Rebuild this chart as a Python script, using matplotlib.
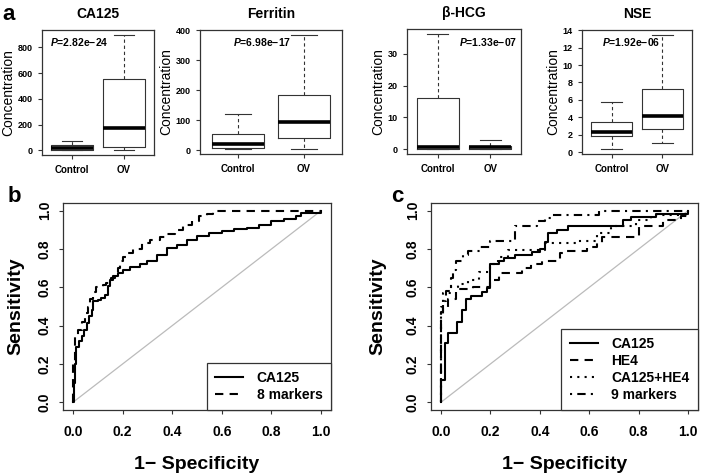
import numpy as np
import matplotlib
matplotlib.use('Agg')
from matplotlib import pyplot as plt

plt.rcParams['font.family'] = ['Liberation Sans', 'DejaVu Sans']
plt.rcParams['mathtext.fontset'] = 'custom'
plt.rcParams['mathtext.it'] = 'Liberation Sans:italic:bold'
plt.rcParams['mathtext.rm'] = 'Liberation Sans:bold'

# ---- panel a: box plot summaries (whislo, q1, med, q3, whishi) ----
markers = ['CA125', 'Ferritin', 'β-HCG', 'NSE']
groups = ['Control', 'OV']
p_values = ['2.82e−24', '6.98e−17', '1.33e−07', '1.92e−06']
control_stats = [[0, 5, 15, 40, 75],
                 [2, 8, 20, 53, 120],
                 [0, 0.2, 0.6, 16, 36.3],
                 [0.3, 1.8, 2.35, 3.5, 5.7]]
ov_stats = [[0, 30, 175, 555, 900],
            [3, 40, 92, 182, 385],
            [0, 0.2, 0.7, 1.2, 2.9],
            [1.0, 2.6, 4.15, 7.3, 13.5]]
y_ticks = [np.arange(0, 801, 200), np.arange(0, 401, 100),
           np.arange(0, 31, 10), np.arange(0, 15, 2)]

# ---- panel b: ROC curves ----
b_ca125_fpr = [0, 0.003, 0.008, 0.012, 0.025, 0.035, 0.045, 0.055, 0.065, 0.075, 0.082, 0.1,
               0.115, 0.13, 0.142, 0.15, 0.16, 0.18, 0.2, 0.23, 0.27, 0.3, 0.34, 0.38, 0.42,
               0.46, 0.5, 0.55, 0.6, 0.65, 0.7, 0.75, 0.8, 0.85, 0.9, 0.92, 0.98, 1.0]
b_ca125_tpr = [0, 0.1, 0.2, 0.29, 0.32, 0.345, 0.38, 0.415, 0.45, 0.48, 0.53, 0.535,
               0.545, 0.56, 0.605, 0.64, 0.66, 0.675, 0.69, 0.705, 0.72, 0.74, 0.77, 0.805, 0.82,
               0.845, 0.87, 0.885, 0.895, 0.905, 0.91, 0.925, 0.945, 0.955, 0.97, 0.99, 0.99, 1.0]
b_8m_fpr = [0, 0.002, 0.007, 0.02, 0.035, 0.047, 0.06, 0.07, 0.08, 0.094, 0.12, 0.135,
            0.155, 0.168, 0.18, 0.19, 0.2, 0.22, 0.243, 0.28, 0.31, 0.35, 0.377, 0.41, 0.445,
            0.48, 0.51, 0.54, 0.566, 1.0]
b_8m_tpr = [0, 0.2, 0.35, 0.38, 0.42, 0.465, 0.5, 0.54, 0.575, 0.6, 0.61, 0.625,
            0.65, 0.665, 0.7, 0.735, 0.76, 0.78, 0.80, 0.83, 0.847, 0.865, 0.88, 0.9, 0.925,
            0.945, 0.97, 0.985, 1.0, 1.0]

# ---- panel c: ROC curves ----
c_ca125_fpr = [0, 0, 0.017, 0.03, 0.065, 0.085, 0.1, 0.12, 0.165, 0.185, 0.2, 0.235, 0.255,
               0.3, 0.37, 0.4, 0.42, 0.435, 0.47, 0.515, 0.735, 0.77, 0.87, 1.0]
c_ca125_tpr = [0, 0.118, 0.31, 0.36, 0.42, 0.48, 0.54, 0.555, 0.575, 0.595, 0.72, 0.74, 0.755,
               0.77, 0.785, 0.8, 0.835, 0.885, 0.9, 0.918, 0.95, 0.967, 0.985, 1.0]
c_he4_fpr = [0, 0, 0.01, 0.03, 0.06, 0.13, 0.2, 0.235, 0.33, 0.365, 0.41, 0.48, 0.5, 0.59,
             0.63, 0.65, 0.8, 0.9, 0.97, 1.0]
c_he4_tpr = [0, 0.47, 0.5, 0.54, 0.59, 0.6, 0.64, 0.675, 0.70, 0.72, 0.735, 0.78, 0.79, 0.81,
             0.83, 0.865, 0.92, 0.95, 0.97, 1.0]
c_combo_fpr = [0, 0, 0.01, 0.04, 0.07, 0.11, 0.155, 0.2, 0.23, 0.27, 0.42, 0.55, 0.63, 0.69,
               0.79, 0.85, 1.0]
c_combo_tpr = [0, 0.5, 0.57, 0.60, 0.62, 0.64, 0.68, 0.72, 0.76, 0.797, 0.83, 0.84, 0.885,
               0.918, 0.95, 0.98, 1.0]
c_9m_fpr = [0, 0, 0.01, 0.02, 0.04, 0.05, 0.06, 0.09, 0.11, 0.16, 0.2, 0.3, 0.39, 0.42, 0.45,
            0.64, 1.0]
c_9m_tpr = [0, 0.45, 0.53, 0.58, 0.65, 0.69, 0.74, 0.77, 0.79, 0.81, 0.84, 0.918, 0.944, 0.96,
            0.98, 1.0, 1.0]

W, H = 709, 476
fig = plt.figure(figsize=(W / 100, H / 100), dpi=100)


def px_axes(l, t, r, b):
    return fig.add_axes([l / W, 1 - b / H, (r - l) / W, (b - t) / H])


def style_axes(ax, size):
    for s in ax.spines.values():
        s.set_linewidth(0.9)
        s.set_color('#333333')
    ax.tick_params(direction='out', length=3, width=0.8, labelsize=size, color='#333333')
    for lab in ax.get_xticklabels() + ax.get_yticklabels():
        lab.set_fontweight('bold')


# boxes
box_rects = [(42, 30, 154, 155), (200, 30, 342, 154), (407, 29, 521, 154), (582, 30, 692, 154)]
p_pos = [(0.07, 0.9, 'left'), (0.23, 0.9, 'left'), (0.97, 0.9, 'right'), (0.18, 0.9, 'left')]
for i, name in enumerate(markers):
    ax = px_axes(*box_rects[i])
    stats = []
    for g, s in zip(groups, [control_stats[i], ov_stats[i]]):
        stats.append(dict(label=g, whislo=s[0], q1=s[1], med=s[2], q3=s[3], whishi=s[4],
                          fliers=[]))
    ax.bxp(stats, positions=[1, 2], widths=0.8, showfliers=False, capwidths=0.4,
           boxprops=dict(color='#333333', lw=0.8),
           medianprops=dict(color='black', lw=2.6, solid_capstyle='butt'),
           whiskerprops=dict(color='#333333', lw=0.8, linestyle=(0, (3, 2.5))),
           capprops=dict(color='#333333', lw=0.8))
    lo = min(control_stats[i][0], ov_stats[i][0])
    hi = max(control_stats[i][4], ov_stats[i][4])
    pad = 0.04 * (hi - lo)
    ax.set_ylim(lo - pad, hi + pad)
    ax.set_xlim(0.42, 2.58)
    ax.set_yticks(y_ticks[i])
    ax.set_ylabel('Concentration', fontsize=10, labelpad=2)
    ax.set_title(name, fontsize=10, fontweight='bold', pad=9)
    style_axes(ax, 6.5)
    ax.tick_params(axis='x', labelsize=7, pad=4)
    xp, yp, ha = p_pos[i]
    ax.text(xp, yp, r'$P$=' + p_values[i], transform=ax.transAxes, ha=ha, va='center',
            fontsize=7.5, fontweight='bold')

# ROC panels
dashes = {'solid': '-', 'dash': (0, (4, 3)), 'dot': (0, (1, 2.5)), 'dashdot': (0, (1, 2.5, 4, 2.5))}


def roc_axes(rect, ypad):
    ax = px_axes(*rect)
    ax.plot([0, 1], [0, 1], color='#bbbbbb', lw=0.9)
    ax.set_xlim(-0.04, 1.04)
    ax.set_ylim(-0.04, 1.04)
    ax.set_xticks(np.arange(0, 1.01, 0.2))
    ax.set_yticks(np.arange(0, 1.01, 0.2))
    ax.set_xlabel('1− Specificity', fontsize=14, fontweight='bold', labelpad=12)
    ax.set_ylabel('Sensitivity', fontsize=14, fontweight='bold', labelpad=ypad)
    style_axes(ax, 10)
    ax.tick_params(axis='x', pad=8)
    ax.tick_params(axis='y', pad=5)
    for lab in ax.get_yticklabels():
        lab.set_rotation(90)
        lab.set_va('center')
    return ax


axb = roc_axes((63, 203, 331, 410), 10)
axb.plot(b_ca125_fpr, b_ca125_tpr, drawstyle='steps-post', color='black', lw=1.5,
         linestyle=dashes['solid'], label='CA125')
axb.plot(b_8m_fpr, b_8m_tpr, drawstyle='steps-post', color='black', lw=1.5,
         linestyle=dashes['dash'], label='8 markers')

axc = roc_axes((431, 203, 698, 410), 14)
axc.plot(c_ca125_fpr, c_ca125_tpr, drawstyle='steps-post', color='black', lw=1.5,
         linestyle=dashes['solid'], label='CA125')
axc.plot(c_he4_fpr, c_he4_tpr, drawstyle='steps-post', color='black', lw=1.5,
         linestyle=dashes['dash'], label='HE4')
axc.plot(c_combo_fpr, c_combo_tpr, drawstyle='steps-post', color='black', lw=1.5,
         linestyle=dashes['dot'], label='CA125+HE4')
axc.plot(c_9m_fpr, c_9m_tpr, drawstyle='steps-post', color='black', lw=1.5,
         linestyle=dashes['dashdot'], label='9 markers')

for ax in (axb, axc):
    leg = ax.legend(loc='lower right', borderaxespad=0, fancybox=False, framealpha=1,
                    edgecolor='#333333', handlelength=2.0, handletextpad=1.0,
                    labelspacing=0.2, borderpad=0.6,
                    prop={'weight': 'bold', 'size': 10})
    leg.get_frame().set_linewidth(0.9)

# panel letters
fig.text(2 / W, 1 - 14 / H, 'a', fontsize=16, fontweight='bold', va='center', ha='left')
fig.text(8 / W, 1 - 197 / H, 'b', fontsize=16, fontweight='bold', va='center', ha='left')
fig.text(391 / W, 1 - 197 / H, 'c', fontsize=16, fontweight='bold', va='center', ha='left')

fig.savefig('out.png', dpi=100)
